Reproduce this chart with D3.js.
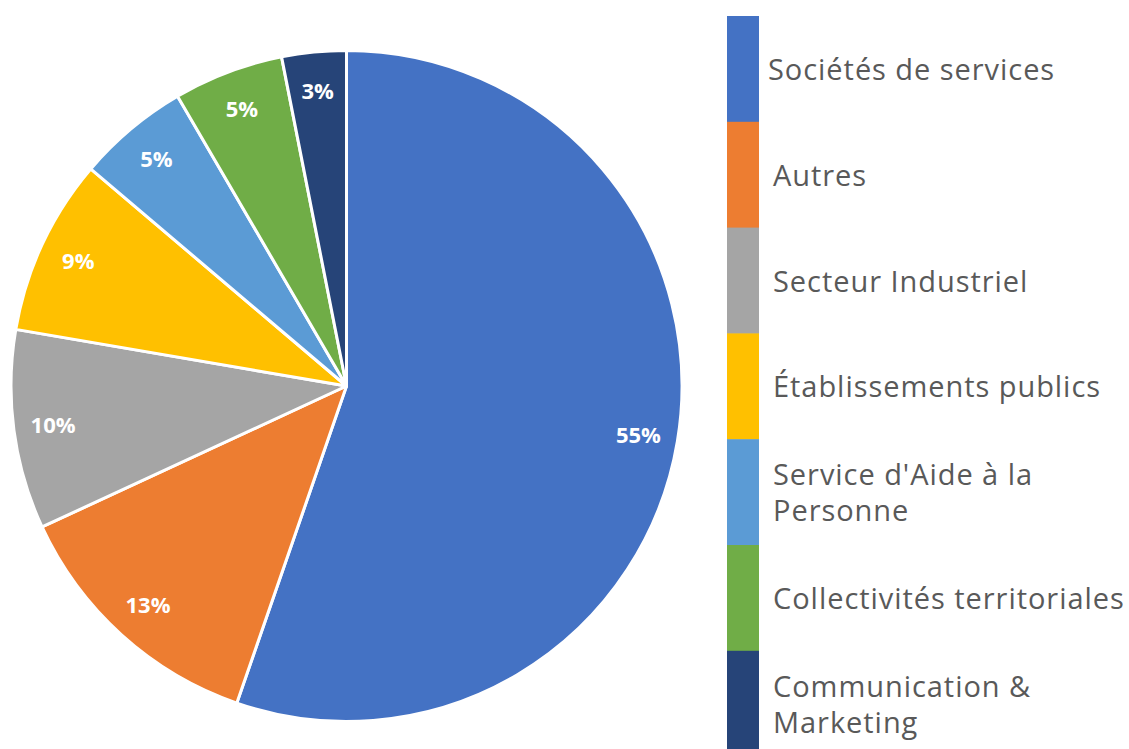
<!DOCTYPE html>
<html lang="fr">
<head>
<meta charset="UTF-8">
<title>Répartition par secteur</title>
<style>
  html, body { margin: 0; background: #fff; }
  svg text { font-family: 'Open Sans', 'Noto Sans', sans-serif; }
  .legend text { fill: #595959; font-size: 29px; letter-spacing: 0.95px; }
  .lbl { fill: #fff; font-weight: 700; font-size: 22px; }
</style>
</head>
<body>
<svg id="chart" width="1129" height="749"></svg>
<script src="https://d3js.org/d3.v7.min.js"></script>
<script>
// categories, values (share in %) and colours
const categories = [
  "Sociétés de services",
  "Autres",
  "Secteur Industriel",
  "Établissements publics",
  "Service d'Aide à la Personne",
  "Collectivités territoriales",
  "Communication & Marketing"
];
const values = [55.3, 12.8, 9.6, 8.5, 5.4, 5.3, 3.1];
const colors = ["#4472C4", "#ED7D31", "#A5A5A5", "#FFC000", "#5B9BD5", "#70AD47", "#264478"];
// legend text as it wraps in the picture
const legendLines = [
  ["Sociétés de services"],
  ["Autres"],
  ["Secteur Industriel"],
  ["Établissements publics"],
  ["Service d'Aide à la", "Personne"],
  ["Collectivités territoriales"],
  ["Communication &", "Marketing"]
];

const svg = d3.select("#chart");
const cx = 346.5, cy = 386, R = 335.5, labelR = 296;

const data = categories.map((c, i) => ({ name: c, value: values[i], color: colors[i] }));

const pie = d3.pie().sort(null).value(d => d.value);
const arc = d3.arc().innerRadius(0).outerRadius(R);
const labelArc = d3.arc().innerRadius(labelR).outerRadius(labelR);

const g = svg.append("g").attr("transform", "translate(" + cx + "," + cy + ")");
const arcs = pie(data);

g.selectAll("path")
  .data(arcs)
  .join("path")
  .attr("d", arc)
  .attr("fill", d => d.data.color)
  .attr("stroke", "#fff")
  .attr("stroke-width", 3)
  .attr("stroke-linejoin", "round");

g.selectAll("text")
  .data(arcs)
  .join("text")
  .attr("class", "lbl")
  .attr("transform", d => "translate(" + labelArc.centroid(d) + ")")
  .attr("text-anchor", "middle")
  .attr("dy", "0.36em")
  .text(d => Math.round(d.data.value) + "%");

// legend: stacked colour strip with text beside it
const legTop = 16, legH = 105.8;
const y = d3.scaleBand().domain(d3.range(categories.length))
  .range([legTop, legTop + legH * categories.length]).paddingInner(0);

const leg = svg.append("g").attr("class", "legend");
leg.selectAll("rect")
  .data(data)
  .join("rect")
  .attr("x", 727)
  .attr("y", (d, i) => y(i))
  .attr("width", 32)
  .attr("height", y.bandwidth() + 0.5)
  .attr("fill", d => d.color);

// one text element per line
const lineH = 36;
const legText = [];
legendLines.forEach((lines, i) => {
  lines.forEach((l, k) => {
    legText.push({
      text: l,
      x: i === 0 ? 768 : 773,
      y: y(i) + y.bandwidth() / 2 + 11 - (lines.length - 1) * lineH / 2 + k * lineH
    });
  });
});
leg.selectAll("text")
  .data(legText)
  .join("text")
  .attr("x", d => d.x)
  .attr("y", d => d.y)
  .text(d => d.text);
</script>
</body>
</html>
